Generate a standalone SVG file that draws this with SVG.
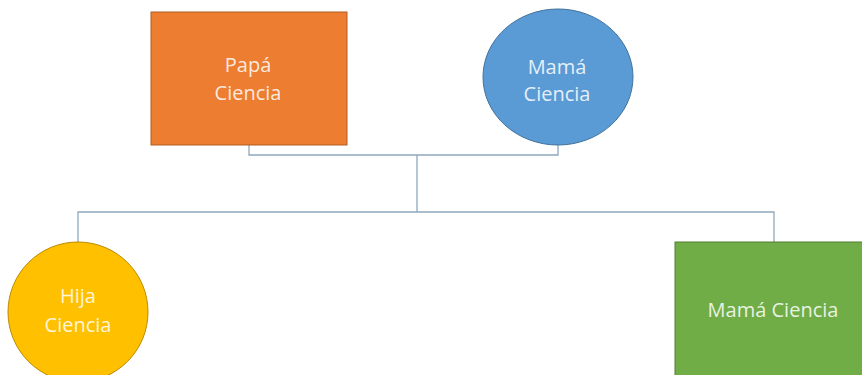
<svg xmlns="http://www.w3.org/2000/svg" width="862" height="375" viewBox="0 0 862 375">
  <style>
    .lbl { font-family: "Open Sans", "Liberation Sans", sans-serif; font-size: 20px; fill: #ffffff; fill-opacity: 0.85; text-anchor: middle; }
    .wire { fill: none; stroke: #8fa8bd; stroke-width: 1.3; }
  </style>
  <rect width="862" height="375" fill="#ffffff"/>

  <!-- tree connectors -->
  <g id="connectors">
    <polyline class="wire" points="249,145 249,155 558,155 558,145"/>
    <line class="wire" x1="417" y1="155" x2="417" y2="212"/>
    <polyline class="wire" points="78,242 78,212 774,212 774,242"/>
  </g>

  <g id="papa">
    <rect x="151" y="12" width="196" height="133" fill="#ed7d31" stroke="#b35c22" stroke-width="1"/>
    <text class="lbl" x="248" y="72">Papá</text>
    <text class="lbl" x="248" y="100">Ciencia</text>
  </g>

  <g id="mama">
    <ellipse cx="558" cy="77" rx="75" ry="68" fill="#5b9bd5" stroke="#41719c" stroke-width="1"/>
    <text class="lbl" x="557" y="74">Mamá</text>
    <text class="lbl" x="557" y="101">Ciencia</text>
  </g>

  <g id="hija">
    <circle cx="78" cy="312" r="70" fill="#ffc000" stroke="#bc8c00" stroke-width="1"/>
    <text class="lbl" x="78" y="303">Hija</text>
    <text class="lbl" x="78" y="332">Ciencia</text>
  </g>

  <g id="mama-2">
    <rect x="675" y="242" width="200" height="140" fill="#70ad47" stroke="#507e32" stroke-width="1"/>
    <text class="lbl" x="773" y="317">Mamá Ciencia</text>
  </g>
</svg>
